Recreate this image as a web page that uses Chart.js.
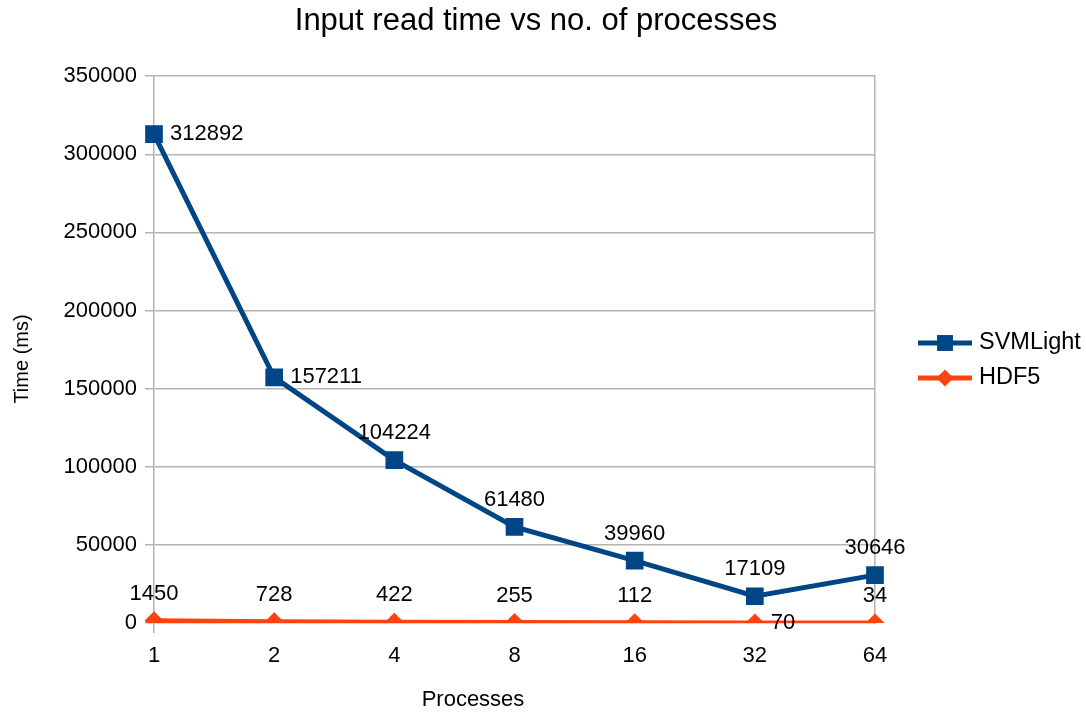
<!DOCTYPE html>
<html>
<head>
<meta charset="utf-8">
<script src="https://cdn.jsdelivr.net/npm/chart.js@4/dist/chart.umd.min.js"></script>
<style>
  html, body { margin: 0; padding: 0; background: #fff; }
  #wrap { width: 1086px; height: 713px; }
</style>
</head>
<body>
<div id="wrap"><canvas id="c" width="1086" height="713"></canvas></div>
<script>
// Number of processes used for reading the input
const processes = ['1', '2', '4', '8', '16', '32', '64'];
// Read time in milliseconds for each input format
const svmlightTimes = [312892, 157211, 104224, 61480, 39960, 17109, 30646];
const hdf5Times = [1450, 728, 422, 255, 112, 70, 34];
// Value axis ticks
const timeTicks = [0, 50000, 100000, 150000, 200000, 250000, 300000, 350000];

const FONT = 'Liberation Sans, Arial, sans-serif';
const GRID = '#b3b3b3';
const TEXT = '#000000';

// Writes each point's value next to its marker
const valueLabels = {
  id: 'valueLabels',
  afterDatasetsDraw(chart, args, opts) {
    const ctx = chart.ctx;
    ctx.save();
    ctx.font = opts.size + 'px ' + FONT;
    ctx.fillStyle = TEXT;
    ctx.textBaseline = 'middle';
    chart.data.datasets.forEach((ds, di) => {
      const meta = chart.getDatasetMeta(di);
      const place = opts.placement[di] || [];
      meta.data.forEach((pt, i) => {
        const text = String(ds.data[i]);
        if ((place[i] || 'above') === 'right') {
          ctx.textAlign = 'left';
          ctx.fillText(text, pt.x + opts.sideGap, pt.y);
        } else {
          ctx.textAlign = 'center';
          ctx.fillText(text, pt.x, pt.y - opts.aboveGap);
        }
      });
    });
    ctx.restore();
  }
};

// Axis captions, placed against the whole drawing rather than the plot box
const axisCaptions = {
  id: 'axisCaptions',
  afterDraw(chart, args, opts) {
    const ctx = chart.ctx;
    ctx.save();
    ctx.fillStyle = TEXT;
    ctx.textAlign = 'center';
    ctx.textBaseline = 'middle';
    ctx.font = opts.xSize + 'px ' + FONT;
    ctx.fillText(opts.xText, opts.xAt[0], opts.xAt[1]);
    ctx.translate(opts.yAt[0], opts.yAt[1]);
    ctx.rotate(-Math.PI / 2);
    ctx.font = opts.ySize + 'px ' + FONT;
    ctx.fillText(opts.yText, 0, 0);
    ctx.restore();
  }
};

// Legend entries drawn as a line sample with the series marker on it
const lineLegend = {
  id: 'lineLegend',
  afterDraw(chart, args, opts) {
    const ctx = chart.ctx;
    ctx.save();
    ctx.font = opts.size + 'px ' + FONT;
    ctx.textBaseline = 'middle';
    ctx.textAlign = 'left';
    chart.data.datasets.forEach((ds, di) => {
      const y = opts.top + di * opts.rowGap;
      const x0 = opts.left, x1 = opts.left + opts.sampleWidth;
      ctx.strokeStyle = ds.borderColor;
      ctx.lineWidth = ds.borderWidth;
      ctx.beginPath();
      ctx.moveTo(x0, y);
      ctx.lineTo(x1, y);
      ctx.stroke();
      ctx.fillStyle = ds.backgroundColor;
      Chart.helpers.drawPoint(ctx, {
        pointStyle: ds.pointStyle,
        radius: ds.pointRadius * opts.markerScale,
        borderWidth: 0,
        rotation: 0
      }, (x0 + x1) / 2, y);
      ctx.fillStyle = TEXT;
      ctx.fillText(ds.label, x1 + opts.textGap, y);
    });
    ctx.restore();
  }
};

new Chart(document.getElementById('c'), {
  type: 'line',
  data: {
    labels: processes,
    datasets: [
      {
        label: 'SVMLight',
        data: svmlightTimes,
        borderColor: '#004586',
        backgroundColor: '#004586',
        borderWidth: 5,
        pointStyle: 'rect',
        pointRadius: 12.5,
        pointBorderWidth: 0,
        tension: 0
      },
      {
        label: 'HDF5',
        data: hdf5Times,
        borderColor: '#ff420e',
        backgroundColor: '#ff420e',
        borderWidth: 5,
        pointStyle: 'rectRot',
        pointRadius: 9.5,
        pointBorderWidth: 0,
        tension: 0
      }
    ]
  },
  options: {
    responsive: false,
    animation: false,
    devicePixelRatio: 1,
    layout: { padding: { left: 0, right: 14, top: 0, bottom: 0 } },
    plugins: {
      legend: { display: false },
      tooltip: { enabled: false },
      title: {
        display: true,
        text: 'Input read time vs no. of processes',
        color: TEXT,
        font: { family: FONT, size: 31, weight: 'normal' },
        padding: { top: 3, bottom: 36 }
      },
      valueLabels: {
        size: 22,
        sideGap: 16,
        aboveGap: 27,
        placement: [
          ['right', 'right', 'above', 'above', 'above', 'above', 'above'],
          ['above', 'above', 'above', 'above', 'above', 'right', 'above']
        ]
      },
      axisCaptions: {
        xText: 'Processes',
        xSize: 22,
        xAt: [473, 700],
        yText: 'Time (ms)',
        ySize: 20,
        yAt: [22, 359]
      },
      lineLegend: {
        left: 918,
        top: 343,
        rowGap: 35,
        sampleWidth: 54,
        textGap: 7,
        markerScale: 0.9,
        size: 23.5
      }
    },
    scales: {
      x: {
        type: 'category',
        offset: false,
        grid: {
          display: true,
          drawOnChartArea: false,
          drawTicks: true,
          tickLength: 10,
          color: 'transparent',
          tickColor: (c) => (c.index === 0 ? GRID : 'transparent'),
          lineWidth: 1.5
        },
        border: { display: false },
        ticks: {
          color: TEXT,
          font: { family: FONT, size: 22 },
          padding: 10,
          maxRotation: 0,
          autoSkip: false
        },
        afterFit(scale) { scale.height = 90; }
      },
      y: {
        min: timeTicks[0],
        max: timeTicks[timeTicks.length - 1],
        afterBuildTicks(scale) {
          scale.ticks = timeTicks.map((v) => ({ value: v }));
        },
        grid: {
          color: GRID,
          lineWidth: 1.5,
          drawTicks: true,
          tickLength: 9
        },
        border: { display: true, color: GRID, width: 1.5 },
        ticks: {
          color: TEXT,
          font: { family: FONT, size: 22 },
          padding: 8,
          callback: (v) => String(v)
        },
        afterFit(scale) { scale.width = 154; }
      },
      frame: {
        position: 'right',
        display: true,
        grid: { display: false, drawTicks: false },
        border: { display: true, color: GRID, width: 1.5 },
        ticks: { display: false },
        afterFit(scale) { scale.width = 197; }
      }
    }
  },
  plugins: [valueLabels, axisCaptions, lineLegend]
});
</script>
</body>
</html>
